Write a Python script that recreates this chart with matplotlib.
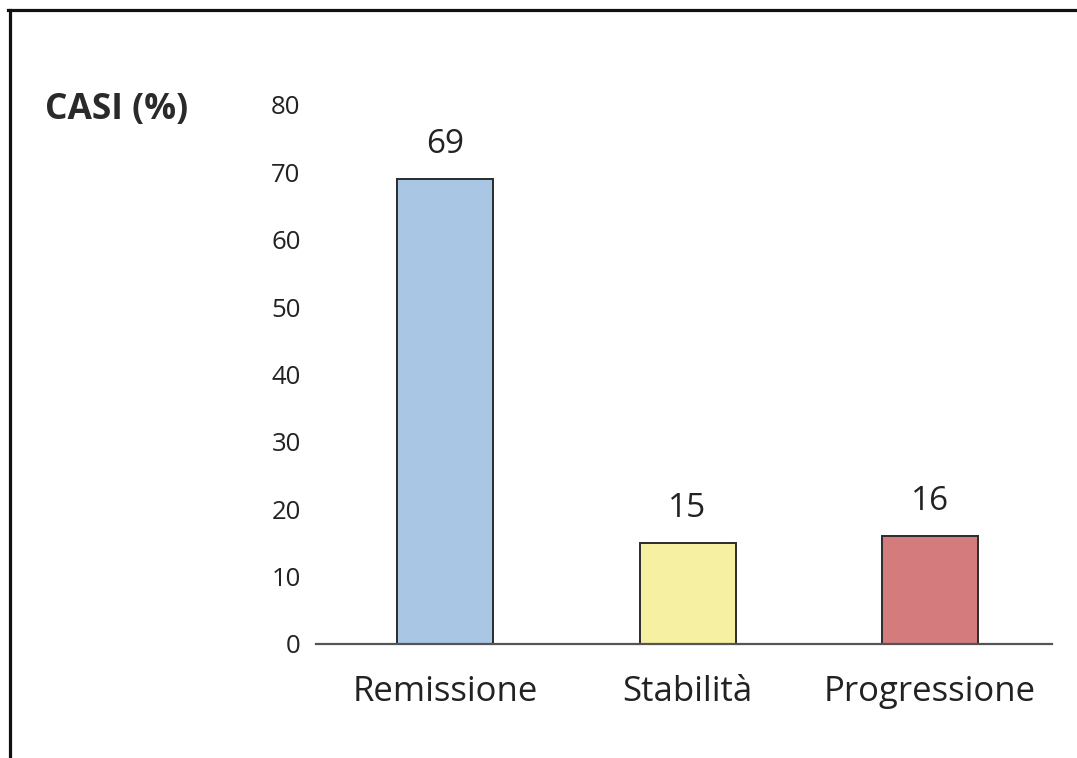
import matplotlib.pyplot as plt
from matplotlib.lines import Line2D

# Outcome categories and share of cases (%)
categories = ['Remissione', 'Stabilità', 'Progressione']
percentages = [69, 15, 16]
bar_colors = ['#a9c6e4', '#f6f0a2', '#d37b7d']
y_ticks = [0, 10, 20, 30, 40, 50, 60, 70, 80]

plt.rcParams['font.family'] = ['Open Sans', 'DejaVu Sans']

fig = plt.figure(figsize=(10.77, 7.58), dpi=100)
ax = fig.add_axes([0.2934, 0.1504, 0.6834, 0.7111])

x = range(len(categories))
bars = ax.bar(x, percentages, width=0.396, color=bar_colors,
              edgecolor='#2b2b2b', linewidth=1.4, zorder=2)

# value labels above each bar
for xi, v in zip(x, percentages):
    ax.annotate(str(v), (xi, v), xytext=(0, 19), textcoords='offset points',
                ha='center', va='baseline', fontsize=24, color='#222222')

ax.set_xlim(-0.532, 2.503)
ax.set_ylim(0, 80)
ax.set_yticks(y_ticks)
ax.set_xticks(list(x))
ax.set_xticklabels(categories, fontsize=25, color='#222222')
ax.tick_params(axis='y', length=0, pad=11, labelsize=18.5, labelcolor='#222222')
ax.tick_params(axis='x', length=0, pad=22)

for side in ['top', 'right', 'left']:
    ax.spines[side].set_visible(False)
ax.spines['bottom'].set_color('#555555')
ax.spines['bottom'].set_linewidth(1.6)
ax.spines['bottom'].set_zorder(3)

fig.text(0.0418, 0.855, 'CASI (%)', fontsize=25.5, fontweight='bold',
         color='#2a2a2a', ha='left', va='center')

# border on the top and left edges of the figure
fig.add_artist(Line2D([0.0075, 1.0], [0.9868, 0.9868], color='#111111',
                      linewidth=2.3, transform=fig.transFigure))
fig.add_artist(Line2D([0.0093, 0.0093], [0.0, 0.9868], color='#111111',
                      linewidth=2.3, transform=fig.transFigure))

fig.savefig('out.png', dpi=100)
